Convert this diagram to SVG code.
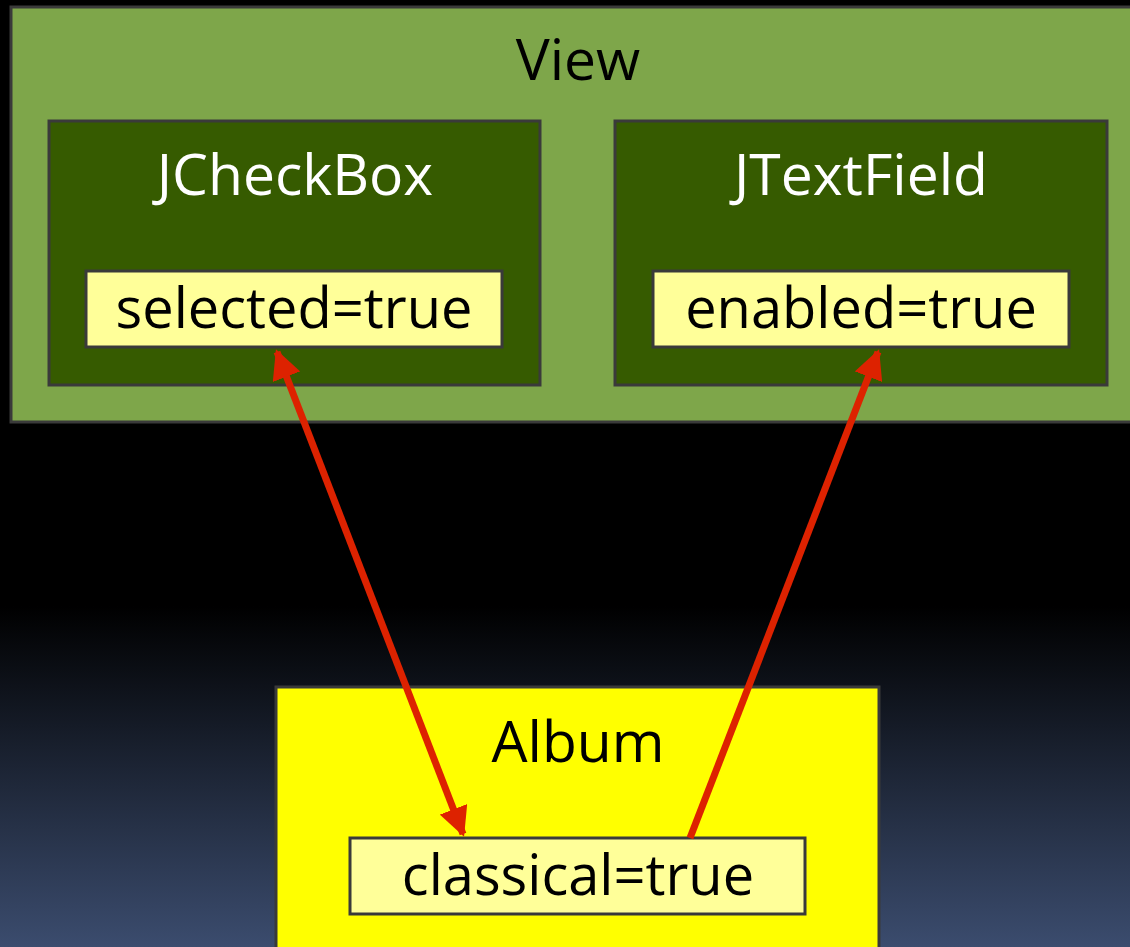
<svg xmlns="http://www.w3.org/2000/svg" width="1130" height="947" viewBox="0 0 1130 947">
<defs>
<linearGradient id="bg" x1="0" y1="0" x2="0" y2="947" gradientUnits="userSpaceOnUse">
<stop offset="0" stop-color="#000000"/>
<stop offset="0.64" stop-color="#000000"/>
<stop offset="1" stop-color="#3b4c6e"/>
</linearGradient>
<marker id="ah" viewBox="0 0 10 10" refX="9" refY="5" markerWidth="4.2" markerHeight="4.2" orient="auto-start-reverse" markerUnits="strokeWidth">
<path d="M0,0 L10,5 L0,10 z" fill="#dd2200"/>
</marker>
<style>
.box{stroke:#3a3a3a;stroke-width:3}
.t{font-family:"Open Sans","Lato",sans-serif;text-anchor:middle}
.prop{fill:#ffff99}
.conn{stroke:#dd2200;stroke-width:7;fill:none}
</style>
</defs>
<rect width="1130" height="947" fill="url(#bg)"/>
<g id="view">
<rect class="box" x="11" y="7" width="1125" height="415" fill="#7ea64a"/>
<text class="t" x="578" y="80" font-size="57" fill="#000">View</text>
</g>
<g id="jcheckbox">
<rect class="box" x="49" y="121" width="491" height="264" fill="#365b00"/>
<text class="t" x="295" y="195" font-size="57" fill="#fff">JCheckBox</text>
<rect class="box prop" x="86" y="271" width="416" height="76"/>
<text class="t" x="294" y="328" font-size="56" fill="#000">selected=true</text>
</g>
<g id="jtextfield">
<rect class="box" x="615" y="121" width="492" height="264" fill="#365b00"/>
<text class="t" x="861" y="195" font-size="57" fill="#fff">JTextField</text>
<rect class="box prop" x="653" y="271" width="416" height="76"/>
<text class="t" x="861" y="328" font-size="56" fill="#000">enabled=true</text>
</g>
<g id="album">
<rect class="box" x="276" y="687" width="603" height="270" fill="#ffff00"/>
<text class="t" x="578" y="762" font-size="57" fill="#000">Album</text>
<rect class="box prop" x="350" y="838" width="455" height="76"/>
<text class="t" x="578" y="895" font-size="56" fill="#000">classical=true</text>
</g>
<g id="connectors">
<line class="conn" x1="277" y1="352" x2="463" y2="834" marker-start="url(#ah)" marker-end="url(#ah)"/>
<line class="conn" x1="690" y1="838" x2="878" y2="352" marker-end="url(#ah)"/>
</g>
</svg>
